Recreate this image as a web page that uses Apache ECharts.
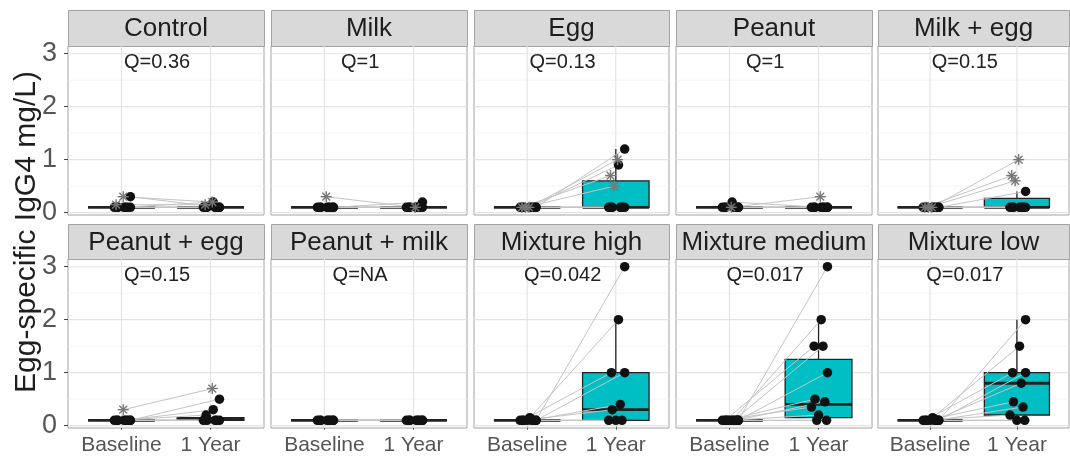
<!DOCTYPE html>
<html>
<head>
<meta charset="utf-8">
<script src="https://cdn.jsdelivr.net/npm/echarts@6/dist/echarts.min.js"></script>
<style>
  html, body { margin: 0; padding: 0; background: #fff; }
  #chart { width: 1070px; height: 459px; }
</style>
</head>
<body>
<div id="chart"></div>
<script>
// ---- data ----
const panelNames = ["Control", "Milk", "Egg", "Peanut", "Milk + egg",
  "Peanut + egg", "Peanut + milk", "Mixture high", "Mixture medium", "Mixture low"];
const qLabels = ["Q=0.36", "Q=1", "Q=0.13", "Q=1", "Q=0.15",
  "Q=0.15", "Q=NA", "Q=0.042", "Q=0.017", "Q=0.017"];
const timeLabels = ["Baseline", "1 Year"];
const yTicks = [0, 1, 2, 3];
const yGridValues = [0, 0.5, 1, 1.5, 2, 2.5, 3];

// box stats: [min, q1, median, q3, max]
const boxBaseline = [
  [0.1, 0.1, 0.1, 0.1, 0.1], [0.1, 0.1, 0.1, 0.1, 0.1], [0.1, 0.1, 0.1, 0.1, 0.1],
  [0.1, 0.1, 0.1, 0.1, 0.1], [0.1, 0.1, 0.1, 0.1, 0.1], [0.1, 0.1, 0.1, 0.1, 0.1],
  [0.1, 0.1, 0.1, 0.1, 0.1], [0.1, 0.1, 0.1, 0.1, 0.1], [0.1, 0.1, 0.1, 0.1, 0.1],
  [0.1, 0.1, 0.1, 0.1, 0.1]
];
const boxYear = [
  [0.1, 0.1, 0.1, 0.1, 0.1], [0.1, 0.1, 0.1, 0.1, 0.1], [0.1, 0.1, 0.1, 0.6, 1.2],
  [0.1, 0.1, 0.1, 0.1, 0.1], [0.1, 0.1, 0.1, 0.27, 0.4], [0.1, 0.1, 0.12, 0.15, 0.2],
  [0.1, 0.1, 0.1, 0.1, 0.1], [0.1, 0.1, 0.3, 1.0, 2.0], [0.1, 0.15, 0.4, 1.25, 2.0],
  [0.1, 0.2, 0.8, 1.0, 2.0]
];

// paired subjects (filled dots): baseline value and 1-year value by index
const dotBaseline = [
  [0.3, 0.1, 0.1, 0.1, 0.1, 0.1, 0.1, 0.1],
  [0.1, 0.1, 0.1, 0.1, 0.1, 0.1, 0.1, 0.1],
  [0.1, 0.1, 0.1, 0.1, 0.1, 0.1, 0.1, 0.1],
  [0.1, 0.2, 0.1, 0.1, 0.1, 0.1, 0.1, 0.1],
  [0.1, 0.1, 0.1, 0.1, 0.1, 0.1, 0.1, 0.1],
  [0.1, 0.1, 0.1, 0.1, 0.1, 0.1, 0.1, 0.1],
  [0.1, 0.1, 0.1, 0.1, 0.1, 0.1, 0.1, 0.1],
  [0.1, 0.15, 0.1, 0.1, 0.1, 0.1, 0.1, 0.1, 0.1],
  [0.1, 0.1, 0.1, 0.1, 0.1, 0.1, 0.1, 0.1, 0.1, 0.1, 0.1],
  [0.1, 0.15, 0.1, 0.1, 0.1, 0.1, 0.1, 0.1, 0.1, 0.1]
];
const dotYear = [
  [0.1, 0.2, 0.1, 0.1, 0.1, 0.1, 0.1, 0.1],
  [0.2, 0.1, 0.1, 0.1, 0.1, 0.1, 0.1, 0.1],
  [1.2, 0.9, 0.1, 0.1, 0.1, 0.1, 0.1, 0.1],
  [0.1, 0.1, 0.1, 0.1, 0.1, 0.1, 0.1, 0.1],
  [0.4, 0.1, 0.1, 0.1, 0.1, 0.1, 0.1, 0.1],
  [0.5, 0.3, 0.2, 0.1, 0.1, 0.1, 0.1, 0.1],
  [0.1, 0.1, 0.1, 0.1, 0.1, 0.1, 0.1, 0.1],
  [3.0, 2.0, 1.0, 1.0, 0.4, 0.3, 0.1, 0.1, 0.1],
  [3.0, 2.0, 1.5, 1.0, 1.5, 0.5, 0.45, 0.35, 0.2, 0.1, 0.1],
  [2.0, 1.5, 1.0, 1.0, 0.8, 0.45, 0.35, 0.2, 0.1, 0.1]
];
// subjects drawn with asterisks
const starBaseline = [[0.3, 0.15], [0.3], [0.1, 0.1, 0.1], [0.1], [0.1, 0.1, 0.1], [0.3], [], [], [], []];
const starYear = [[0.2, 0.15], [0.1], [1.0, 0.7, 0.5], [0.3], [1.0, 0.7, 0.6], [0.7], [], [], [], []];

// horizontal jitter offsets (as seen in the figure)
const jitter = [0.1, 0.03, -0.05, 0.1, 0.05, -0.04, 0.07, -0.08, 0.0, 0.09, -0.02, 0.04];
const starJitter = [0.02, -0.06, -0.02];

// ---- layout ----
const colLeft = [68, 271, 474, 676, 878];
const colWidth = [196, 196, 195, 196, 191];
const stripTop = [10, 224];
const panelTop = [46, 259];
const panelHeight = 169;
const FONT = "'Liberation Sans', Arial, sans-serif";

const grids = [], xAxes = [], yAxes = [], series = [], graphics = [];

panelNames.forEach((name, i) => {
  const row = Math.floor(i / 5), col = i % 5;
  const left = colLeft[col], width = colWidth[col];

  grids.push({
    left, top: panelTop[row], width, height: panelHeight,
    show: true, borderColor: "#a3a3a3", borderWidth: 1, backgroundColor: "#fff"
  });

  xAxes.push({
    type: "value", gridIndex: i, min: 0.4, max: 2.6,
    axisLine: { show: false }, splitLine: { show: false },
    axisTick: { show: row === 1, customValues: [1, 2], length: 4, lineStyle: { color: "#444" } },
    axisLabel: {
      show: row === 1, customValues: [1, 2], margin: 7,
      formatter: (v) => timeLabels[Math.round(v) - 1] || "",
      fontSize: 21, color: "#555", fontFamily: FONT
    }
  });

  yAxes.push({
    type: "value", gridIndex: i, min: -0.045, max: 3.145,
    axisLine: { show: false }, splitLine: { show: false },
    axisTick: { show: col === 0, customValues: yTicks, length: 4, lineStyle: { color: "#444" } },
    axisLabel: {
      show: col === 0, customValues: yTicks, margin: 11,
      fontSize: 27, color: "#555", fontFamily: FONT
    }
  });

  // grid lines
  series.push({
    type: "custom", xAxisIndex: i, yAxisIndex: i, z: 1, silent: true,
    data: yGridValues.map((v) => [1.5, v]),
    renderItem: (params, api) => {
      const y = api.value(1);
      const a = api.coord([0.4, y]), b = api.coord([2.6, y]);
      const major = Math.abs(y - Math.round(y)) < 1e-6;
      return { type: "line", shape: { x1: a[0], y1: a[1], x2: b[0], y2: b[1] },
        style: { stroke: major ? "#e3e3e3" : "#f1f1f1", lineWidth: major ? 1.1 : 0.8 } };
    }
  });
  series.push({
    type: "custom", xAxisIndex: i, yAxisIndex: i, z: 1, silent: true,
    data: [[1, 0], [2, 0]],
    renderItem: (params, api) => {
      const x = api.value(0);
      const a = api.coord([x, -0.045]), b = api.coord([x, 3.145]);
      return { type: "line", shape: { x1: a[0], y1: a[1], x2: b[0], y2: b[1] },
        style: { stroke: "#e3e3e3", lineWidth: 1.1 } };
    }
  });

  // boxplots
  series.push({
    type: "custom", xAxisIndex: i, yAxisIndex: i, z: 2, silent: true,
    data: [[1].concat(boxBaseline[i]), [2].concat(boxYear[i])],
    renderItem: (params, api) => {
      const x = api.value(0);
      const mn = api.value(1), q1 = api.value(2), md = api.value(3), q3 = api.value(4), mx = api.value(5);
      const half = 0.375;
      const tl = api.coord([x - half, q3]), br = api.coord([x + half, q1]);
      const c = api.coord([x, 0]);
      const pMax = api.coord([x, mx]), pQ3 = api.coord([x, q3]);
      const pMin = api.coord([x, mn]), pQ1 = api.coord([x, q1]);
      const mL = api.coord([x - half, md]), mR = api.coord([x + half, md]);
      return {
        type: "group",
        children: [
          { type: "line", shape: { x1: c[0], y1: pQ3[1], x2: c[0], y2: pMax[1] }, style: { stroke: "#222", lineWidth: 1.3 } },
          { type: "line", shape: { x1: c[0], y1: pQ1[1], x2: c[0], y2: pMin[1] }, style: { stroke: "#222", lineWidth: 1.3 } },
          { type: "rect", shape: { x: tl[0], y: tl[1], width: br[0] - tl[0], height: br[1] - tl[1] },
            style: { fill: x === 2 ? "#00BFC4" : "#F8766D", stroke: "#222", lineWidth: 1.3 } },
          { type: "line", shape: { x1: mL[0], y1: mL[1], x2: mR[0], y2: mR[1] }, style: { stroke: "#222", lineWidth: 2.8 } }
        ]
      };
    }
  });

  // paired connecting lines
  const pairs = [];
  dotBaseline[i].forEach((b, k) => {
    const j = jitter[k % jitter.length];
    pairs.push([1 + j, b, 2 + j, dotYear[i][k]]);
  });
  starBaseline[i].forEach((b, k) => {
    const j = starJitter[k % starJitter.length];
    pairs.push([1 + j, b, 2 + j, starYear[i][k]]);
  });
  series.push({
    type: "custom", xAxisIndex: i, yAxisIndex: i, z: 3, silent: true,
    data: pairs,
    renderItem: (params, api) => {
      const a = api.coord([api.value(0), api.value(1)]);
      const b = api.coord([api.value(2), api.value(3)]);
      return { type: "line", shape: { x1: a[0], y1: a[1], x2: b[0], y2: b[1] },
        style: { stroke: "#c4c4c4", lineWidth: 1 } };
    }
  });

  // filled dots
  const dots = [];
  dotBaseline[i].forEach((v, k) => dots.push([1 + jitter[k % jitter.length], v]));
  dotYear[i].forEach((v, k) => dots.push([2 + jitter[k % jitter.length], v]));
  series.push({
    type: "scatter", xAxisIndex: i, yAxisIndex: i, z: 4, silent: true,
    symbol: "circle", symbolSize: 9.5,
    itemStyle: { color: "#111", opacity: 1 },
    data: dots
  });

  // asterisks
  const stars = [];
  starBaseline[i].forEach((v, k) => stars.push([1 + starJitter[k % starJitter.length], v]));
  starYear[i].forEach((v, k) => stars.push([2 + starJitter[k % starJitter.length], v]));
  series.push({
    type: "custom", xAxisIndex: i, yAxisIndex: i, z: 5, silent: true,
    data: stars,
    renderItem: (params, api) => {
      const p = api.coord([api.value(0), api.value(1)]);
      const r = 5.5;
      const d = r * 0.707;
      const seg = (x1, y1, x2, y2) => ({ type: "line", shape: { x1, y1, x2, y2 }, style: { stroke: "#777", lineWidth: 1.4 } });
      return { type: "group", children: [
        seg(p[0] - r, p[1], p[0] + r, p[1]),
        seg(p[0], p[1] - r, p[0], p[1] + r),
        seg(p[0] - d, p[1] - d, p[0] + d, p[1] + d),
        seg(p[0] - d, p[1] + d, p[0] + d, p[1] - d)
      ] };
    }
  });

  // Q label
  series.push({
    type: "custom", xAxisIndex: i, yAxisIndex: i, z: 6, silent: true,
    data: [[1.4, 3]],
    renderItem: (params, api) => {
      const p = api.coord([api.value(0), api.value(1)]);
      return { type: "text", x: p[0], y: p[1] - 1,
        style: { text: qLabels[i], fill: "#222", font: "20px " + FONT, align: "center", verticalAlign: "top" } };
    }
  });

  // strip header
  graphics.push({
    type: "rect", left: left, top: stripTop[row],
    shape: { width: width, height: panelTop[row] - stripTop[row] },
    style: { fill: "#d9d9d9", stroke: "#a3a3a3", lineWidth: 1 }
  });
  graphics.push({
    type: "text", x: left + width / 2, y: (stripTop[row] + panelTop[row]) / 2 + 1,
    style: { text: name, fill: "#1e1e1e", font: "26px " + FONT, align: "center", verticalAlign: "middle" }
  });
});

graphics.push({
  type: "text", x: 27, y: 232, rotation: Math.PI / 2,
  style: { text: "Egg-specific IgG4 mg/L)", fill: "#1e1e1e", font: "30px " + FONT, align: "center", verticalAlign: "middle" }
});

const chart = echarts.init(document.getElementById("chart"), null, { renderer: "canvas" });
chart.setOption({
  animation: false,
  backgroundColor: "#fff",
  grid: grids,
  xAxis: xAxes,
  yAxis: yAxes,
  series,
  graphic: graphics
});
</script>
</body>
</html>
